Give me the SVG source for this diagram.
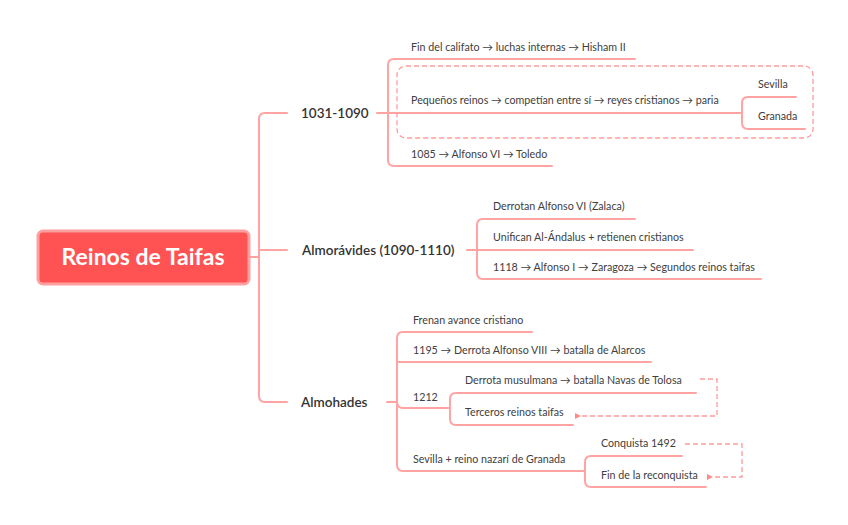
<svg xmlns="http://www.w3.org/2000/svg" width="848" height="525" viewBox="0 0 848 525">
<defs>
<style>
.c{fill:none;stroke:#ffa3a3;stroke-width:2;stroke-linecap:round}
.d{fill:none;stroke:#ff9a9a;stroke-width:1.3;stroke-dasharray:5,3}
.t{font-family:Lato,"Open Sans",sans-serif;font-size:10.7px;fill:#404040}
.m{font-family:Lato,"Open Sans",sans-serif;font-size:13.5px;font-weight:600;fill:#333}
.r{font-family:Lato,"Open Sans",sans-serif;font-size:23px;font-weight:bold;fill:#fff}
</style>
<marker id="ah" viewBox="0 0 6 6" refX="1" refY="3" markerWidth="5" markerHeight="5" orient="auto-start-reverse">
<path d="M6,0 L0,3 L6,6 z" fill="#ff8a8a"/>
</marker>
</defs>
<rect width="848" height="525" fill="#fff"/>
<g id="connectors">
<path class="c" d="M250,257 H259"/>
<path class="c" d="M287,113 H265 Q259,113 259,119 V396 Q259,402 265,402 H287"/>
<path class="c" d="M259,250 H287"/>
<path class="c" d="M377,113 H742"/>
<path class="c" d="M635,59 H394 Q388,59 388,65 V160 Q388,166 394,166 H552"/>
<path class="c" d="M796,97 H748 Q742,97 742,103 V123 Q742,129 748,129 H805"/>
<path class="c" d="M467,250 H693"/>
<path class="c" d="M635,219 H483 Q477,219 477,225 V273 Q477,279 483,279 H761"/>
<path class="c" d="M387,402 H397"/>
<path class="c" d="M532,332 H403 Q397,332 397,338 V465 Q397,471 403,471 H585"/>
<path class="c" d="M397,362 H651"/>
<path class="c" d="M397,402 Q397,408 403,408 H450"/>
<path class="c" d="M696,393 H456 Q450,393 450,399 V419 Q450,425 456,425 H573"/>
<path class="c" d="M682,456 H591 Q585,456 585,462 V481 Q585,487 591,487 H706"/>
<rect class="d" x="397" y="66" width="416" height="72" rx="9"/>
<path class="d" d="M700,379 H717 V416 H580" marker-end="url(#ah)"/>
<path class="d" d="M685,444 H742 V477 H712" marker-end="url(#ah)"/>
</g>
<g id="root">
<rect x="38" y="231" width="211" height="53" rx="5" fill="#ff5252" stroke="#ffa0a0" stroke-width="3"/>
<text class="r" x="143" y="265" text-anchor="middle">Reinos de Taifas</text>
</g>
<g id="n1031"><text class="m" x="301" y="118">1031-1090</text></g>
<g id="nFin"><text class="t" x="411" y="51">Fin del califato → luchas internas → Hisham II</text></g>
<g id="nPeq"><text class="t" x="411" y="104">Pequeños reinos → competían entre sí → reyes cristianos → paria</text></g>
<g id="nSev"><text class="t" x="758" y="88">Sevilla</text></g>
<g id="nGra"><text class="t" x="758" y="120">Granada</text></g>
<g id="n1085"><text class="t" x="411" y="158">1085 → Alfonso VI → Toledo</text></g>
<g id="nAlmor"><text class="m" x="302" y="255">Almorávides (1090-1110)</text></g>
<g id="nDerr"><text class="t" x="493" y="210">Derrotan Alfonso VI (Zalaca)</text></g>
<g id="nUni"><text class="t" x="493" y="241">Unifican Al-Ándalus + retienen cristianos</text></g>
<g id="n1118"><text class="t" x="493" y="271">1118 → Alfonso I → Zaragoza → Segundos reinos taifas</text></g>
<g id="nAlmoh"><text class="m" x="301" y="407">Almohades</text></g>
<g id="nFren"><text class="t" x="413" y="324">Frenan avance cristiano</text></g>
<g id="n1195"><text class="t" x="413" y="354">1195 → Derrota Alfonso VIII → batalla de Alarcos</text></g>
<g id="n1212"><text class="t" x="413" y="401">1212</text></g>
<g id="nDerMus"><text class="t" x="465" y="384">Derrota musulmana → batalla Navas de Tolosa</text></g>
<g id="nTerc"><text class="t" x="465" y="416">Terceros reinos taifas</text></g>
<g id="nSevGr"><text class="t" x="413" y="463">Sevilla + reino nazarí de Granada</text></g>
<g id="nConq"><text class="t" x="601" y="447">Conquista 1492</text></g>
<g id="nFinR"><text class="t" x="601" y="479">Fin de la reconquista</text></g>
</svg>
